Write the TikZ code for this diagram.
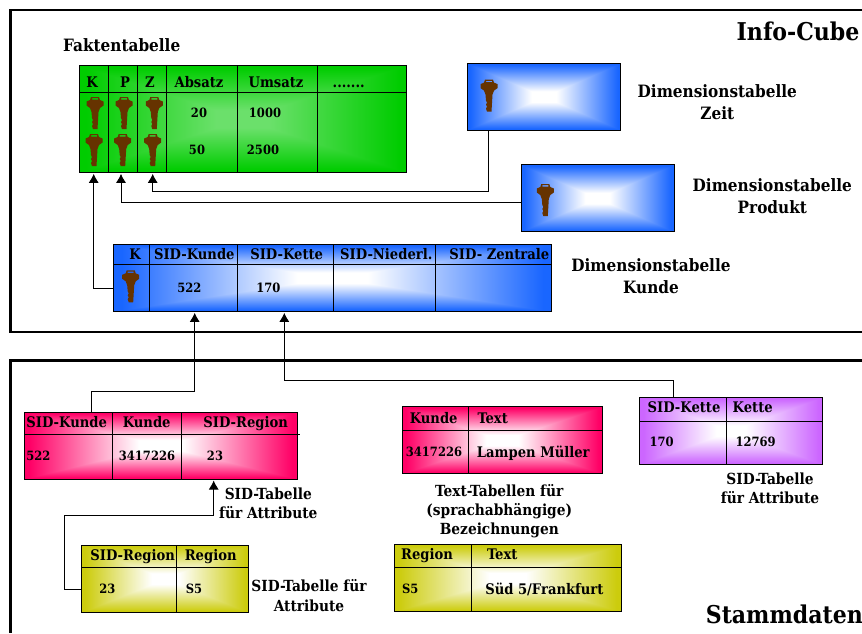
\documentclass[tikz,border=0pt]{standalone}
\usepackage{fontspec}
\setmainfont{DejaVu Serif Condensed}
\usetikzlibrary{arrows.meta, positioning, fit}

% #1 name, #2 #3 #4 inner rgb, #5 #6 #7 outer minus inner
\newcommand{\rectshade}[7]{%
  \pgfdeclarefunctionalshading{#1}{\pgfpoint{-50bp}{-50bp}}{\pgfpoint{50bp}{50bp}}{}{%
    abs exch abs 2 copy lt {exch} if pop 4 sub 20 div
    dup 0 lt {pop 0} if dup 1 gt {pop 1} if
    dup #5 mul #2 add exch dup #6 mul #3 add exch #7 mul #4 add
  }%
}
\rectshade{greenshade}{0.42}{0.88}{0.42}{-0.42}{-0.08}{-0.42}
\rectshade{blueshade}{1}{1}{1}{-0.9}{-0.6}{0}
\rectshade{pinkshade}{1}{1}{1}{0}{-1}{-0.6}
\rectshade{purpleshade}{1}{1}{1}{-0.2}{-0.6}{0}
\rectshade{oliveshade}{1}{1}{1}{-0.2}{-0.2}{-0.95}

\definecolor{keybrown}{RGB}{102,51,0}

\tikzset{
  tablebox/.style={draw=black, line width=0.9pt, inner sep=0pt, outer sep=0pt},
  greenbox/.style={tablebox, shading=greenshade},
  bluebox/.style={tablebox, shading=blueshade},
  pinkbox/.style={tablebox, shading=pinkshade},
  purplebox/.style={tablebox, shading=purpleshade},
  olivebox/.style={tablebox, shading=oliveshade},
  frameline/.style={line width=2.6pt},
  gridline/.style={line width=0.8pt},
  link/.style={line width=0.9pt, -{Latex[length=9pt,width=10pt]}, shorten >=1.5pt},
  cell/.style={font=\fontsize{14.6}{16}\selectfont\bfseries, inner sep=0pt, text height=13.7pt, text depth=3pt},
  numcell/.style={font=\fontsize{12.8}{14}\selectfont\bfseries, inner sep=0pt},
  caption/.style={font=\fontsize{15.3}{19.3}\selectfont\bfseries, align=center, inner sep=0pt},
  dimcaption/.style={font=\fontsize{17}{22}\selectfont\bfseries, align=center, inner sep=0pt},
  headline/.style={font=\fontsize{24.5}{28}\selectfont\bfseries, inner sep=0pt},
  keyicon/.pic={
    \fill[keybrown, even odd rule] (-4,-16) -- (4,-16) -- (5,-13) -- (8.5,-11.5) -- (8.5,-7.5)
      -- (5,-5) -- (3.5,-1) -- (2.5,16) -- (-2,16) -- (-3,13) -- (-2,11) -- (-3,9) -- (-2,7)
      -- (-3,5) -- (-3.5,-1) -- (-5,-5) -- (-8.5,-7.5) -- (-8.5,-11.5) -- (-5,-13) -- cycle
      (-3,-14.8) rectangle (3,-13.4);
  }
}

\begin{document}
\begin{tikzpicture}[x=1pt, y=-1pt]
	\useasboundingbox (0,0) rectangle (862,633);

	% Frames
	\draw[frameline] (862,10) -- (10.3,10) -- (10.3,332) -- (862,332);
	\draw[frameline] (862,360.5) -- (10.3,360.5) -- (10.3,633);

	% Define tables
	\node (fact) [greenbox, fit={(79.3,65.3) (406,172.3)}] {};
	\node (zeit) [bluebox, fit={(467.3,63.3) (620.7,130)}] {};
	\node (produkt) [bluebox, fit={(521,164.7) (674,231.7)}] {};
	\node (kunde) [bluebox, fit={(113.3,244.3) (551.7,311.3)}] {};
	\node (sidKunde) [pinkbox, fit={(24,412) (297.7,479)}] {};
	\node (textKunde) [pinkbox, fit={(402,406.7) (602.7,473.7)}] {};
	\node (sidKette) [purplebox, fit={(639.7,397.3) (822.3,464.3)}] {};
	\node (sidRegion) [olivebox, fit={(81.7,545.3) (248.7,612.3)}] {};
	\node (textRegion) [olivebox, fit={(394,544.7) (621.3,611.7)}] {};

	% Table rules
	\draw[gridline] (fact.west |- 0,92) -- (fact.east |- 0,92);
	\draw[gridline] (fact.north -| 108.3,0) -- (fact.south -| 108.3,0);
	\draw[gridline] (fact.north -| 137.3,0) -- (fact.south -| 137.3,0);
	\draw[gridline] (fact.north -| 166.3,0) -- (fact.south -| 166.3,0);
	\draw[gridline] (fact.north -| 237,0) -- (fact.south -| 237,0);
	\draw[gridline] (fact.north -| 317.3,0) -- (fact.south -| 317.3,0);

	\draw[gridline] (kunde.west |- 0,264.7) -- (kunde.east |- 0,264.7);
	\draw[gridline] (kunde.north -| 149,0) -- (kunde.south -| 149,0);
	\draw[gridline] (kunde.north -| 237.3,0) -- (kunde.south -| 237.3,0);
	\draw[gridline] (kunde.north -| 333.3,0) -- (kunde.south -| 333.3,0);
	\draw[gridline] (kunde.north -| 435.7,0) -- (kunde.south -| 435.7,0);

	\draw[gridline] (sidKunde.west |- 0,434) -- (299.7,434);
	\draw[gridline] (sidKunde.north -| 112.7,0) -- (sidKunde.south -| 112.7,0);
	\draw[gridline] (sidKunde.north -| 181.7,0) -- (sidKunde.south -| 181.7,0);

	\draw[gridline] (textKunde.west |- 0,430.7) -- (textKunde.east |- 0,430.7);
	\draw[gridline] (textKunde.north -| 468.7,0) -- (textKunde.south -| 468.7,0);

	\draw[gridline] (sidKette.west |- 0,421.7) -- (sidKette.east |- 0,421.7);
	\draw[gridline] (sidKette.north -| 726.3,0) -- (sidKette.south -| 726.3,0);

	\draw[gridline] (sidRegion.west |- 0,567.3) -- (sidRegion.east |- 0,567.3);
	\draw[gridline] (sidRegion.north -| 176.7,0) -- (sidRegion.south -| 176.7,0);

	\draw[gridline] (textRegion.west |- 0,567) -- (textRegion.east |- 0,567);
	\draw[gridline] (textRegion.north -| 471.7,0) -- (textRegion.south -| 471.7,0);

	% Keys
	\pic at (95,113) {keyicon};
	\pic at (124,113) {keyicon};
	\pic at (154.3,113) {keyicon};
	\pic at (94,150) {keyicon};
	\pic at (122.7,150) {keyicon};
	\pic at (152.7,150) {keyicon};
	\pic at (489,95.6) {keyicon};
	\pic at (545.3,200) {keyicon};
	\pic at (130.7,286.3) {keyicon};

	% Fact table cells
	\node (fK) [cell] at (92,81.7) {K};
	\node (fP) [cell] at (125,81.7) {P};
	\node (fZ) [cell] at (150,81.7) {Z};
	\node (fAbsatz) [cell] at (199,81.7) {Absatz};
	\node (fUmsatz) [cell] at (276,81.7) {Umsatz};
	\node (fDots) [cell] at (348.7,81.7) {.......};
	\node (fA) [numcell] at (199,112.7) {20};
	\node (fB) [numcell] at (265,112.7) {1000};
	\node (fC) [numcell] at (197,150) {50};
	\node (fD) [numcell] at (263,150) {2500};

	% Kunde dimension cells
	\node (kK) [cell] at (135,254) {K};
	\node (kSidKunde) [cell] at (194.3,254) {SID-Kunde};
	\node (kSidKette) [cell] at (286.7,254) {SID-Kette};
	\node (kSidNiederl) [cell] at (386.3,254) {SID-Niederl.};
	\node (kSidZentrale) [cell] at (499.3,254) {SID- Zentrale};
	\node (kA) [numcell] at (189.3,288.3) {522};
	\node (kB) [numcell] at (268.3,288.3) {170};

	% Master data cells
	\node (sA) [cell] at (66.7,421.7) {SID-Kunde};
	\node (sB) [cell] at (146.7,421.7) {Kunde};
	\node (sC) [cell] at (245.7,421.7) {SID-Region};
	\node (sD) [numcell] at (38.3,455.7) {522};
	\node (sE) [numcell] at (147,455.7) {3417226};
	\node (sF) [numcell] at (215,455.7) {23};

	\node (tA) [cell] at (433.7,417.7) {Kunde};
	\node (tB) [cell] at (492.7,417.7) {Text};
	\node (tC) [numcell] at (434,451.7) {3417226};
	\node (tD) [cell] at (533.3,451.7) {Lampen Müller};

	\node (eA) [cell] at (684,407.3) {SID-Kette};
	\node (eB) [cell] at (752.7,407.3) {Kette};
	\node (eC) [numcell] at (661.7,441.7) {170};
	\node (eD) [numcell] at (755.7,441.7) {12769};

	\node (rA) [cell] at (132.7,554.7) {SID-Region};
	\node (rB) [cell] at (210.7,554.7) {Region};
	\node (rC) [numcell] at (107.3,588.7) {23};
	\node (rD) [numcell] at (194,588.7) {S5};

	\node (xA) [cell] at (427,553.7) {Region};
	\node (xB) [cell] at (502.3,553.7) {Text};
	\node (xC) [numcell] at (410.3,588.7) {S5};
	\node (xD) [cell] at (544.3,588.7) {Süd 5/Frankfurt};

	% Captions
	\node (infoCube) [headline] at (798,31.7) {Info-Cube};
	\node (stammdaten) [headline] at (784.3,614.3) {Stammdaten};
	\node (factCap) [dimcaption] at (121.7,45) {Faktentabelle};
	\node (zeitCap) [dimcaption] at (717.3,101.7) {Dimensionstabelle\\Zeit};
	\node (produktCap) [dimcaption] at (772.3,196) {Dimensionstabelle\\Produkt};
	\node (kundeCap) [dimcaption] at (651,276.5) {Dimensionstabelle\\Kunde};
	\node (sidKundeCap) [caption] at (268.3,503.5) {SID-Tabelle\\für Attribute};
	\node (sidRegionCap) [caption] at (309,595.5) {SID-Tabelle für\\Attribute};
	\node (sidKetteCap) [caption] at (770,488.3) {SID-Tabelle\\für Attribute};
	\node (textCap) [caption] at (499.3,511) {Text-Tabellen für\\(sprachabhängige)\\Bezeichnungen};

	% Bend points
	\coordinate (zeitBend) at (488.3,191);
	\coordinate (zBend) at (152.7,191);
	\coordinate (pBend) at (121,202.7);
	\coordinate (kBend) at (93.7,288);
	\coordinate (skBendA) at (91.7,391.7);
	\coordinate (skBendB) at (194.7,391.7);
	\coordinate (keBendA) at (673.7,380.5);
	\coordinate (keBendB) at (284.3,380.5);
	\coordinate (rgBendA) at (64,589.3);
	\coordinate (rgBendB) at (64,515.3);
	\coordinate (rgBendC) at (213.7,515.3);

	% Draw connections
	\draw[link] (zeit.south -| zeitBend) -- (zeitBend) -- (zBend) -- (fact.south -| zBend);
	\draw[link] (produkt.west |- pBend) -- (pBend) -- (fact.south -| pBend);
	\draw[link] (kunde.west |- kBend) -- (kBend) -- (fact.south -| kBend);
	\draw[link] (sidKunde.north -| skBendA) -- (skBendA) -- (skBendB) -- (kunde.south -| skBendB);
	\draw[link] (sidKette.north -| keBendA) -- (keBendA) -- (keBendB) -- (kunde.south -| keBendB);
	\draw[link] (sidRegion.west |- rgBendA) -- (rgBendA) -- (rgBendB) -- (rgBendC) -- (sidKunde.south -| rgBendC);
\end{tikzpicture}
\end{document}
